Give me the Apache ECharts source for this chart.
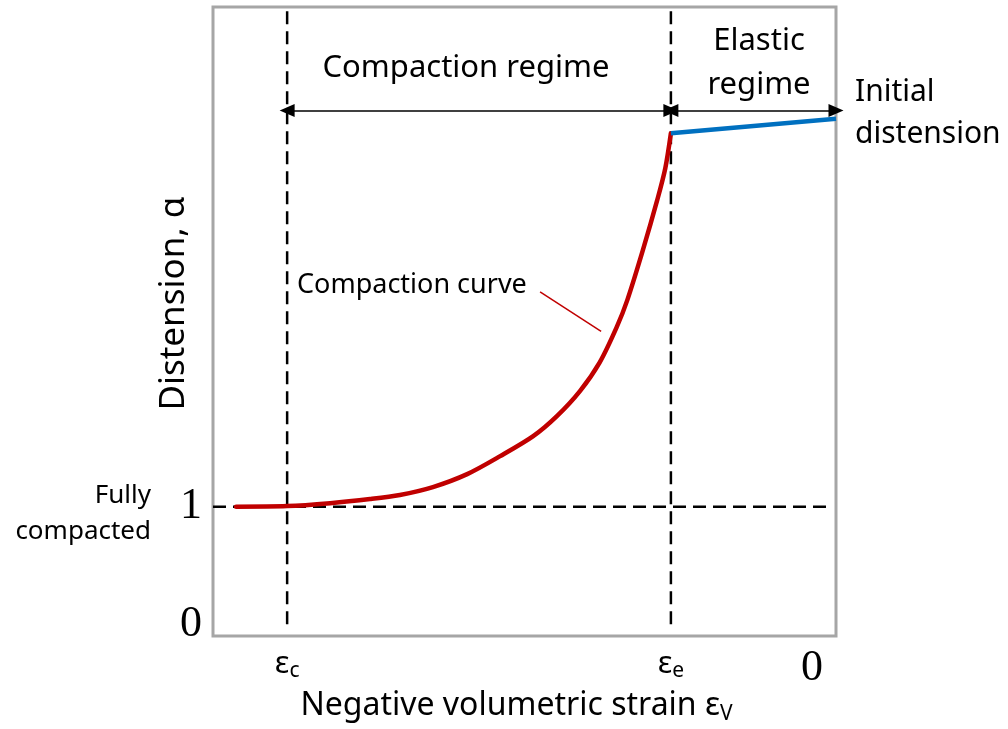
<!DOCTYPE html>
<html>
<head>
<meta charset="utf-8">
<script src="https://cdn.jsdelivr.net/npm/echarts@6/dist/echarts.min.js"></script>
<style>
  html, body { margin: 0; padding: 0; background: #ffffff; }
  #chart { width: 1008px; height: 729px; }
</style>
</head>
<body>
<div id="chart"></div>
<script>
// Characteristic strains (normalised so that the initial state sits at 0)
const strainCompacted = -0.881;   // εc
const strainElastic = -0.265;     // εe

// Compaction curve: distension vs. negative volumetric strain
const compactionStrain = [-0.963, -0.881, -0.812, -0.748, -0.700, -0.647, -0.592, -0.539,
                          -0.486, -0.448, -0.411, -0.379, -0.352, -0.335, -0.310, -0.287,
                          -0.274, -0.265];
const compactionAlpha  = [1.00, 1.005, 1.03, 1.065, 1.10, 1.167, 1.277, 1.43,
                          1.60, 1.77, 1.983, 2.23, 2.527, 2.757, 3.182, 3.607,
                          3.879, 4.177];

// Elastic branch up to the initial distension
const elasticStrain = [-0.265, 0];
const elasticAlpha  = [4.177, 4.30];

// Fully compacted level and the regime arrows
const fullyCompactedAlpha = 1;
const regimeArrowAlpha = 4.37;
const guideTopAlpha = 5.22;

// Leader line from the "Compaction curve" note to the curve
const leaderStrain = [-0.475, -0.377];
const leaderAlpha  = [2.826, 2.49];

// Tick labels
const xTickValues = [strainCompacted, strainElastic, 0];
const xTickLabels = ['{e|ε}{s|c}', '{e|ε}{s|e}', '{n|0}'];
const yTickValues = [0, 1];
const yTickLabels = ['0', '1'];

const sans = '"Noto Sans", "Open Sans", sans-serif';
const serif = '"Liberation Serif", "DejaVu Serif", serif';

const pairs = (xs, ys) => xs.map((x, i) => [x, ys[i]]);
const dashed = { color: '#000000', width: 2.5, type: [13, 7] };

const chart = echarts.init(document.getElementById('chart'), null, { renderer: 'canvas' });

chart.setOption({
  animation: false,
  backgroundColor: '#ffffff',
  grid: {
    left: 213, right: 172, top: 7, bottom: 93,
    outerBoundsMode: 'none',
    containLabel: false,
    show: true, borderColor: '#a6a6a6', borderWidth: 3, backgroundColor: 'transparent'
  },
  xAxis: {
    type: 'value', min: -1, max: 0,
    axisLine: { show: false }, axisTick: { show: false }, splitLine: { show: false },
    axisLabel: {
      customValues: xTickValues,
      margin: 10,
      formatter: v => xTickLabels[xTickValues.indexOf(v)],
      rich: {
        e: { fontFamily: sans, fontSize: 31, color: '#000', lineHeight: 36 },
        s: { fontFamily: sans, fontSize: 21, color: '#000', verticalAlign: 'bottom', lineHeight: 36, padding: [16, 0, 0, 0] },
        n: { fontFamily: serif, fontSize: 44, color: '#000', padding: [0, 48, 0, 0] }
      }
    },
    name: 'Negative volumetric strain {e|ε}{s|V}',
    nameLocation: 'middle',
    nameGap: 51,
    nameMoveOverlap: false,
    nameTextStyle: {
      fontFamily: sans, fontSize: 32, color: '#000', padding: [0, 16, 0, 0],
      rich: {
        e: { fontFamily: sans, fontSize: 32, color: '#000', lineHeight: 38 },
        s: { fontFamily: sans, fontSize: 21, color: '#000', verticalAlign: 'bottom', lineHeight: 38, padding: [16, 0, 0, 0] }
      }
    }
  },
  yAxis: {
    type: 'value', min: -0.1, max: 5.25,
    axisLine: { show: false }, axisTick: { show: false }, splitLine: { show: false },
    axisLabel: {
      customValues: yTickValues,
      margin: 11,
      formatter: v => yTickLabels[yTickValues.indexOf(v)],
      fontFamily: serif, fontSize: 44, color: '#000'
    },
    name: 'Distension, α',
    nameLocation: 'middle',
    nameGap: 21,
    nameMoveOverlap: false,
    nameTextStyle: { fontFamily: sans, fontSize: 35, color: '#000', padding: [0, 0, 0, 36] }
  },
  graphic: [
    { type: 'text', x: 466, y: 68, style: { text: 'Compaction regime', font: '31px ' + sans, fill: '#000', align: 'center', verticalAlign: 'middle' } },
    { type: 'text', x: 759, y: 63, style: { text: 'Elastic\nregime', font: '31px ' + sans, fill: '#000', align: 'center', verticalAlign: 'middle', lineHeight: 44 } },
    { type: 'text', x: 855, y: 113, style: { text: 'Initial\ndistension', font: '30px ' + sans, fill: '#000', align: 'left', verticalAlign: 'middle', lineHeight: 42 } },
    { type: 'text', x: 151, y: 514, style: { text: 'Fully\ncompacted', font: '26px ' + sans, fill: '#000', align: 'right', verticalAlign: 'middle', lineHeight: 36 } },
    { type: 'text', x: 297, y: 285, style: { text: 'Compaction curve', font: '27px ' + sans, fill: '#000', align: 'left', verticalAlign: 'middle' } }
  ],
  series: [
    {
      name: 'εc guide', type: 'line', symbol: 'none', silent: true,
      data: [[strainCompacted, 0], [strainCompacted, guideTopAlpha]],
      lineStyle: dashed
    },
    {
      name: 'εe guide', type: 'line', symbol: 'none', silent: true,
      data: [[strainElastic, 0], [strainElastic, guideTopAlpha]],
      lineStyle: dashed
    },
    {
      name: 'Fully compacted', type: 'line', symbol: 'none', silent: true,
      data: [[-1, fullyCompactedAlpha], [-0.01, fullyCompactedAlpha]],
      lineStyle: dashed
    },
    {
      name: 'Compaction curve', type: 'line', symbol: 'none', smooth: 0.3,
      data: pairs(compactionStrain, compactionAlpha),
      lineStyle: { color: '#c00000', width: 4.5, cap: 'round' }
    },
    {
      name: 'Elastic', type: 'line', symbol: 'none',
      data: pairs(elasticStrain, elasticAlpha),
      lineStyle: { color: '#0070c0', width: 4.5 }
    },
    {
      name: 'Leader', type: 'line', symbol: 'none', silent: true,
      data: pairs(leaderStrain, leaderAlpha),
      lineStyle: { color: '#c00000', width: 1.5 }
    },
    {
      name: 'Regimes', type: 'line', data: [], silent: true,
      markLine: {
        silent: true,
        symbol: ['triangle', 'triangle'],
        symbolSize: [13, 15],
        label: { show: false },
        lineStyle: { color: '#000', width: 1.5, type: 'solid' },
        itemStyle: { color: '#000' },
        data: [
          [{ coord: [strainCompacted, regimeArrowAlpha] }, { coord: [strainElastic, regimeArrowAlpha] }],
          [{ coord: [strainElastic, regimeArrowAlpha] }, { coord: [0, regimeArrowAlpha] }]
        ]
      }
    }
  ]
});
</script>
</body>
</html>
